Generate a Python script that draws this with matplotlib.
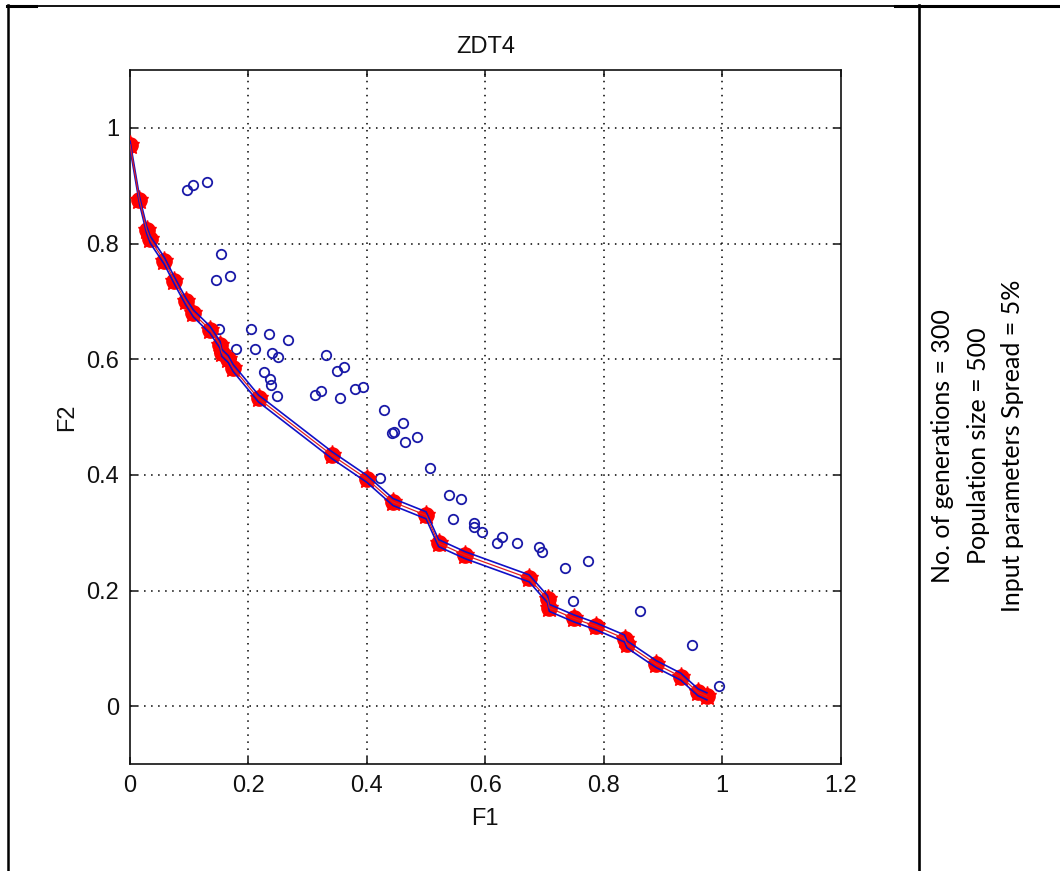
import matplotlib
matplotlib.use("Agg")
import matplotlib.pyplot as plt
import matplotlib.transforms as mtransforms
from matplotlib.lines import Line2D

# ---------- Data ----------
# final non-dominated front of the ZDT4 run
front_f1 = [0.000, 0.016, 0.028, 0.034, 0.058, 0.075, 0.094, 0.107, 0.135, 0.152,
            0.155, 0.166, 0.174, 0.217, 0.341, 0.400, 0.444, 0.500, 0.521, 0.566,
            0.674, 0.705, 0.708, 0.749, 0.787, 0.835, 0.839, 0.888, 0.930, 0.959,
            0.974]
front_f2 = [0.971, 0.875, 0.824, 0.807, 0.770, 0.736, 0.700, 0.679, 0.651, 0.625,
            0.611, 0.600, 0.585, 0.532, 0.434, 0.393, 0.353, 0.330, 0.282, 0.261,
            0.221, 0.185, 0.170, 0.152, 0.138, 0.117, 0.107, 0.073, 0.051, 0.024,
            0.017]

# rest of the population (dominated solutions)
pop_f1 = [0.097, 0.107, 0.130, 0.153, 0.146, 0.169, 0.150, 0.204, 0.234, 0.266,
          0.179, 0.211, 0.239, 0.250, 0.331, 0.350, 0.361, 0.227, 0.236, 0.238,
          0.248, 0.312, 0.322, 0.355, 0.380, 0.393, 0.429, 0.461, 0.442, 0.445,
          0.464, 0.484, 0.507, 0.422, 0.539, 0.559, 0.546, 0.580, 0.581, 0.595,
          0.628, 0.620, 0.653, 0.691, 0.695, 0.734, 0.773, 0.748, 0.861, 0.949,
          0.994]
pop_f2 = [0.893, 0.902, 0.906, 0.782, 0.737, 0.744, 0.652, 0.652, 0.643, 0.633,
          0.617, 0.617, 0.610, 0.603, 0.607, 0.580, 0.587, 0.578, 0.565, 0.555,
          0.536, 0.538, 0.545, 0.532, 0.548, 0.552, 0.512, 0.490, 0.472, 0.474,
          0.457, 0.466, 0.412, 0.395, 0.365, 0.359, 0.323, 0.317, 0.310, 0.301,
          0.292, 0.282, 0.282, 0.276, 0.266, 0.239, 0.251, 0.181, 0.164, 0.106,
          0.035]

x_ticks = [0, 0.2, 0.4, 0.6, 0.8, 1.0, 1.2]
x_tick_labels = ["0", "0.2", "0.4", "0.6", "0.8", "1", "1.2"]
y_ticks = [0, 0.2, 0.4, 0.6, 0.8, 1.0]
y_tick_labels = ["0", "0.2", "0.4", "0.6", "0.8", "1"]

run_notes = ["No. of generations = 300",
             "Population size = 500",
             "Input parameters Spread = 5%"]

# ---------- Figure ----------
W, H = 1060, 871
fig = plt.figure(figsize=(W / 100, H / 100), dpi=100)
fig.patch.set_facecolor("white")

def px(x0, y0, x1, y1):
    # pixel box -> figure fraction rect
    return [x0 / W, 1 - y1 / H, (x1 - x0) / W, (y1 - y0) / H]

ax = fig.add_axes(px(130, 70, 840.7, 764))

tick_font = {"family": "Liberation Sans", "size": 17}
ink = "#111111"

# dotted grid, MATLAB style
for xv in x_ticks[1:-1]:
    ax.axvline(xv, color="black", lw=1.1, dashes=(1, 3.6), zorder=1)
for yv in y_ticks:
    ax.axhline(yv, color="black", lw=1.1, dashes=(1, 3.6), zorder=1)

blue = "#1a1aa8"
ax.plot(pop_f1, pop_f2, "o", ms=6.8, mfc="none", mec=blue, mew=1.3, zorder=3)

# front markers
ax.plot(front_f1, front_f2, "o", ms=11, color="#ff0000", mec="#ff0000", zorder=4)
ax.plot(front_f1, front_f2, "*", ms=14, color="#ff0000", mec="#ff0000", zorder=4)

# spread band around the front: upper/lower bound in blue, centre in red
off = 3.5 / 100
up = ax.transData + mtransforms.ScaledTranslation(0, off, fig.dpi_scale_trans)
dn = ax.transData + mtransforms.ScaledTranslation(0, -off, fig.dpi_scale_trans)
ax.plot(front_f1, front_f2, color="#1010c8", lw=1.2, transform=up, zorder=5)
ax.plot(front_f1, front_f2, color="#1010c8", lw=1.2, transform=dn, zorder=5)
ax.plot(front_f1, front_f2, color="#e02020", lw=0.9, zorder=5)

ax.set_xlim(0, 1.2)
ax.set_ylim(-0.1, 1.1)
ax.set_xticks(x_ticks)
ax.set_xticklabels(x_tick_labels, fontdict=tick_font, color=ink)
ax.set_yticks(y_ticks)
ax.set_yticklabels(y_tick_labels, fontdict=tick_font, color=ink)
ax.tick_params(direction="in", length=5, width=1.1, top=True, right=True,
               pad=8, color=ink)
for s in ax.spines.values():
    s.set_linewidth(1.2)
    s.set_color(ink)

ax.set_title("ZDT4", fontdict=tick_font, pad=12, color=ink)
ax.set_xlabel("F1", fontdict=tick_font, labelpad=8, color=ink)
ax.set_ylabel("F2", fontdict=tick_font, labelpad=6, color=ink)

# ---------- Table frame around the chart ----------
def hline(x0, x1, y, lw):
    fig.add_artist(Line2D([x0 / W, x1 / W], [1 - y / H, 1 - y / H],
                          color="black", lw=lw, transform=fig.transFigure))

def vline(x, y0, y1, lw):
    fig.add_artist(Line2D([x / W, x / W], [1 - y0 / H, 1 - y1 / H],
                          color="black", lw=lw, transform=fig.transFigure))

hline(7, 36, 6.5, 2.2)
hline(36, 895, 6.5, 1.3)
hline(895, W, 6.5, 2.2)
vline(8.3, 5.5, H, 1.8)
vline(919, 5.5, H, 1.9)

# run settings in the right cell
for xc, note in zip([943, 978, 1013], run_notes):
    fig.text(xc / W, 1 - 446 / H, note, rotation=90, ha="center", va="center",
             fontsize=18, family="Lato", color="black")

fig.savefig("out.png", dpi=100, facecolor="white")
